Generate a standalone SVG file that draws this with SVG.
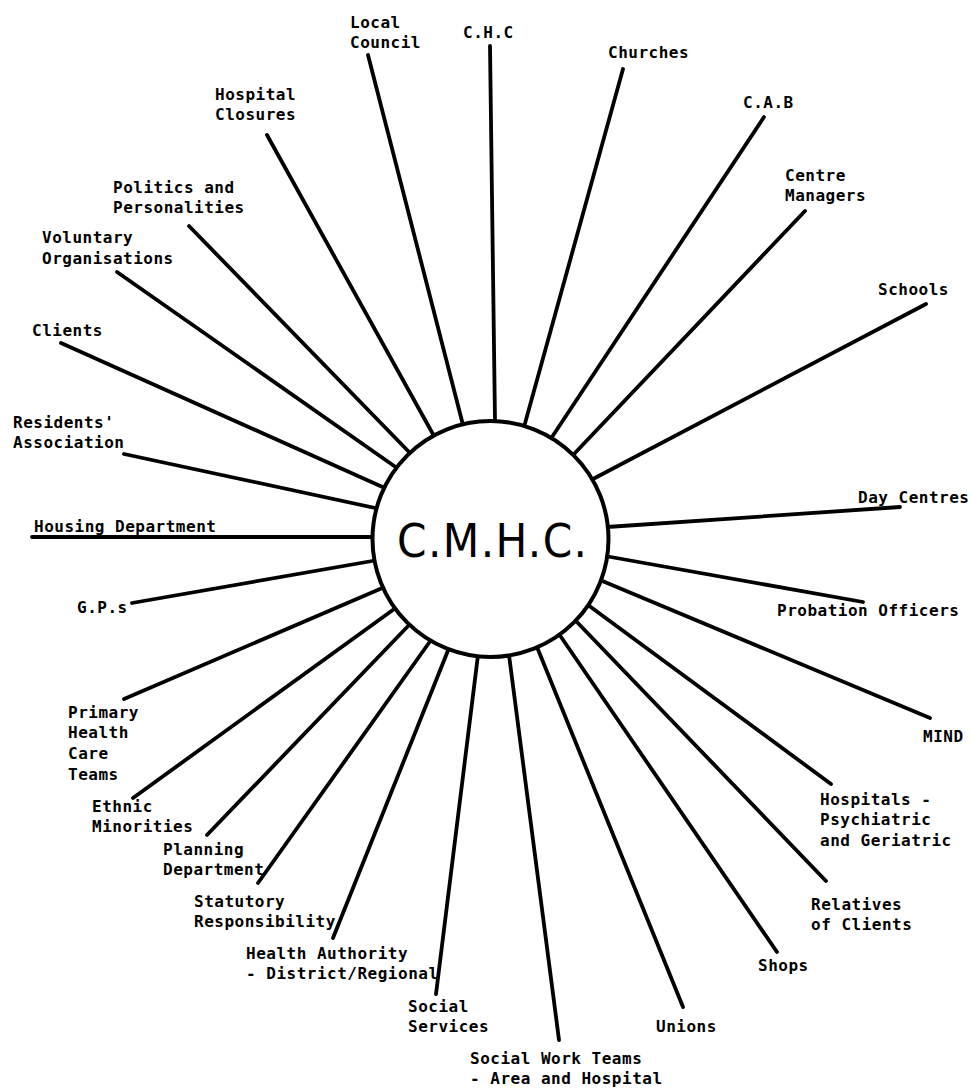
<svg xmlns="http://www.w3.org/2000/svg" width="971" height="1088" viewBox="0 0 971 1088">
<style>
.lbl{font-family:"DejaVu Sans Mono","Liberation Mono",monospace;font-weight:bold;font-size:16px;letter-spacing:0.5px;fill:#000}
.ctr{font-family:"Liberation Sans Narrow","DejaVu Sans Condensed","Liberation Sans",sans-serif;font-size:47px;fill:#000}
#connectors line{stroke:#000;stroke-width:3.8;stroke-linecap:round}
.hub{fill:#fff;stroke:#000;stroke-width:4}
</style>
<rect width="971" height="1088" fill="#fff"/>
<g id="connectors">
<line x1="368" y1="55" x2="463" y2="425"/>
<line x1="490" y1="46" x2="495" y2="422"/>
<line x1="623" y1="69" x2="524" y2="427"/>
<line x1="764" y1="117" x2="552" y2="437"/>
<line x1="805" y1="211" x2="574" y2="454"/>
<line x1="926" y1="304" x2="593" y2="479"/>
<line x1="900" y1="507" x2="607" y2="527"/>
<line x1="863" y1="602" x2="605" y2="556"/>
<line x1="930" y1="718" x2="600" y2="580"/>
<line x1="831" y1="784" x2="588" y2="605"/>
<line x1="826" y1="881" x2="575" y2="620"/>
<line x1="777" y1="952" x2="559" y2="634"/>
<line x1="683" y1="1007" x2="537" y2="647"/>
<line x1="559" y1="1040" x2="509" y2="655"/>
<line x1="436" y1="994" x2="478" y2="655"/>
<line x1="333" y1="938" x2="449" y2="648"/>
<line x1="258" y1="883" x2="431" y2="640"/>
<line x1="207" y1="835" x2="411" y2="623"/>
<line x1="133" y1="798" x2="397" y2="607"/>
<line x1="124" y1="699" x2="387" y2="586"/>
<line x1="132" y1="603" x2="378" y2="560"/>
<line x1="32" y1="537" x2="378" y2="537"/>
<line x1="124" y1="454" x2="380" y2="509"/>
<line x1="61" y1="343" x2="387" y2="489"/>
<line x1="117" y1="272" x2="397" y2="468"/>
<line x1="189" y1="226" x2="411" y2="454"/>
<line x1="267" y1="135" x2="434" y2="436"/>
</g>
<g id="cmhc">
<circle class="hub" cx="490.5" cy="539" r="118"/>
<text class="ctr" x="397" y="557" textLength="190" lengthAdjust="spacing">C.M.H.C.</text>
</g>
<g id="local-council"><text class="lbl" x="350" y="28">Local</text><text class="lbl" x="350" y="48">Council</text></g>
<g id="chc"><text class="lbl" x="463" y="38">C.H.C</text></g>
<g id="churches"><text class="lbl" x="608" y="58">Churches</text></g>
<g id="cab"><text class="lbl" x="743" y="108">C.A.B</text></g>
<g id="centre-managers"><text class="lbl" x="785" y="181">Centre</text><text class="lbl" x="785" y="201">Managers</text></g>
<g id="schools"><text class="lbl" x="878" y="295">Schools</text></g>
<g id="day-centres"><text class="lbl" x="858" y="503">Day Centres</text></g>
<g id="probation-officers"><text class="lbl" x="777" y="616">Probation Officers</text></g>
<g id="mind"><text class="lbl" x="923" y="742">MIND</text></g>
<g id="hospitals"><text class="lbl" x="820" y="805">Hospitals -</text><text class="lbl" x="820" y="825">Psychiatric</text><text class="lbl" x="820" y="846">and Geriatric</text></g>
<g id="relatives"><text class="lbl" x="811" y="910">Relatives</text><text class="lbl" x="811" y="930">of Clients</text></g>
<g id="shops"><text class="lbl" x="758" y="971">Shops</text></g>
<g id="unions"><text class="lbl" x="656" y="1032">Unions</text></g>
<g id="social-work-teams"><text class="lbl" x="470" y="1064">Social Work Teams</text><text class="lbl" x="470" y="1084">- Area and Hospital</text></g>
<g id="social-services"><text class="lbl" x="408" y="1012">Social</text><text class="lbl" x="408" y="1032">Services</text></g>
<g id="health-authority"><text class="lbl" x="246" y="959">Health Authority</text><text class="lbl" x="246" y="979">- District/Regional</text></g>
<g id="statutory"><text class="lbl" x="194" y="907">Statutory</text><text class="lbl" x="194" y="927">Responsibility</text></g>
<g id="planning"><text class="lbl" x="163" y="855">Planning</text><text class="lbl" x="163" y="875">Department</text></g>
<g id="ethnic"><text class="lbl" x="92" y="812">Ethnic</text><text class="lbl" x="92" y="832">Minorities</text></g>
<g id="primary"><text class="lbl" x="68" y="718">Primary</text><text class="lbl" x="68" y="738">Health</text><text class="lbl" x="68" y="759">Care</text><text class="lbl" x="68" y="780">Teams</text></g>
<g id="gps"><text class="lbl" x="77" y="613">G.P.s</text></g>
<g id="housing"><text class="lbl" x="34" y="532">Housing Department</text></g>
<g id="residents"><text class="lbl" x="13" y="428">Residents'</text><text class="lbl" x="13" y="448">Association</text></g>
<g id="clients"><text class="lbl" x="32" y="336">Clients</text></g>
<g id="voluntary"><text class="lbl" x="42" y="243">Voluntary</text><text class="lbl" x="42" y="264">Organisations</text></g>
<g id="politics"><text class="lbl" x="113" y="193">Politics and</text><text class="lbl" x="113" y="213">Personalities</text></g>
<g id="hospital-closures"><text class="lbl" x="215" y="100">Hospital</text><text class="lbl" x="215" y="120">Closures</text></g>
</svg>
